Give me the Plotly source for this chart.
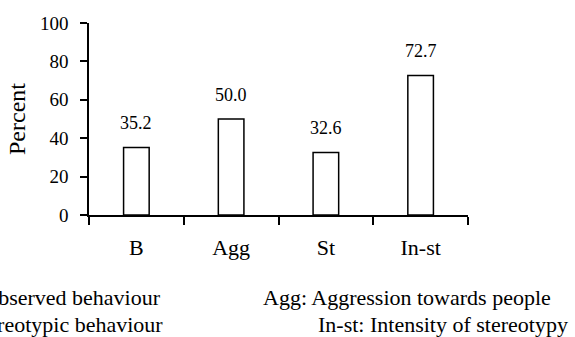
import plotly.graph_objects as go

categories = ["B", "Agg", "St", "In-st"]
percent = [35.2, 50.0, 32.6, 72.7]
y_ticks = [0, 20, 40, 60, 80, 100]
notes = [
    ("B: Observed behaviour", 163, 297),
    ("St: Stereotypic behaviour", 165, 324),
    ("Agg: Aggression towards people", 553, 297),
    ("In-st: Intensity of stereotypy", 570, 324),
]

W, H = 575, 337
L, R, T, B = 89, 107, 23, 122
FONT = "Times New Roman"


def px_x(px):
    return (px - L) / (W - L - R)


def px_y(py):
    return (H - B - py) / (H - T - B)


fig = go.Figure(
    go.Bar(
        x=categories,
        y=percent,
        width=0.27,
        marker=dict(color="white", line=dict(color="black", width=1.5)),
        hoverinfo="skip",
    )
)

# value labels above bars
for cat, val in zip(categories, percent):
    fig.add_annotation(
        x=cat, y=val, text=f"{val:.1f}", showarrow=False,
        yanchor="bottom", yshift=12, font=dict(size=18, color="black", family=FONT),
    )

# y title
fig.add_annotation(
    xref="paper", yref="paper", x=px_x(17), y=0.5, text="Percent",
    textangle=-90, showarrow=False, xanchor="center", yanchor="middle",
    font=dict(size=24, color="black", family=FONT),
)

# footnotes (the left ones run off the edge, as in the source figure)
for txt, right, ymid in notes:
    fig.add_annotation(
        xref="paper", yref="paper", x=px_x(right), y=px_y(ymid), text=txt,
        showarrow=False, xanchor="right", yanchor="middle",
        font=dict(size=22, color="black", family=FONT),
    )

fig.update_layout(
    width=W, height=H,
    margin=dict(l=L, r=R, t=T, b=B),
    paper_bgcolor="white", plot_bgcolor="white",
    showlegend=False,
    font=dict(family=FONT, color="black"),
    xaxis=dict(
        range=[-0.5, 3.5], showline=True, linecolor="black", linewidth=1.5,
        ticks="outside", tickson="boundaries", ticklen=8, tickcolor="black",
        tickwidth=1.5, showgrid=False, zeroline=False,
        tickfont=dict(size=22, family=FONT, color="black"),
        ticklabelstandoff=12,
    ),
    yaxis=dict(
        range=[0, 100], tickvals=y_ticks, showline=True, linecolor="black",
        linewidth=1.5, ticks="outside", ticklen=7, tickcolor="black", tickwidth=1.5,
        showgrid=False, zeroline=False,
        tickfont=dict(size=19, family=FONT, color="black"),
        ticklabelstandoff=8,
    ),
)

fig.write_html(
    "out.html",
    config={"displayModeBar": False},
    post_script="document.body.style.margin='0';document.body.style.overflow='hidden';",
)
